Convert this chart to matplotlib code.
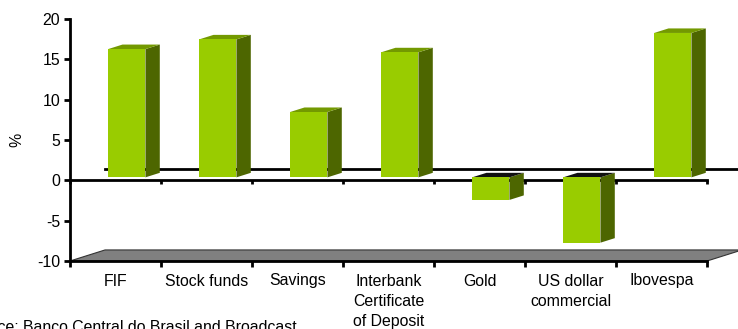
import matplotlib
matplotlib.use("Agg")
import matplotlib.pyplot as plt
from matplotlib.patches import Polygon

categories = [
    "FIF",
    "Stock funds",
    "Savings",
    "Interbank\nCertificate\nof Deposit",
    "Gold",
    "US dollar\ncommercial",
    "Ibovespa",
]
returns_pct = [15.9, 17.1, 8.1, 15.5, -2.8, -8.1, 17.9]
y_ticks = [-10, -5, 0, 5, 10, 15, 20]
source_note = "Source: Banco Central do Brasil and Broadcast"

# fake 3d: depth vector of the plot box, in data units
DEPTH_X, DEPTH_Y = 0.385, 1.37
BAR_FRONT, BAR_BACK = 0.27, 0.68
BAR_WIDTH = 0.41

FRONT_COLOR = "#99cc00"
SIDE_COLOR = "#4d6600"
TOP_COLOR = "#739900"

plt.rcParams["font.family"] = ["Liberation Sans", "DejaVu Sans"]
plt.rcParams["font.size"] = 11.4
plt.rcParams["axes.unicode_minus"] = False

fig = plt.figure(figsize=(7.38, 3.29), dpi=100)
ax = fig.add_axes([70 / 738, 68 / 329, 637 / 738, 242 / 329])
n = len(categories)
ax.set_xlim(0, n)
ax.set_ylim(-10, 20)

for side in ("top", "right"):
    ax.spines[side].set_visible(False)
for side in ("left", "bottom"):
    ax.spines[side].set_linewidth(2.0)
    ax.spines[side].set_zorder(5)

ax.set_yticks(y_ticks)
ax.tick_params(axis="y", length=4, width=2, pad=3)
ax.set_xticks(range(n + 1))
ax.set_xticklabels([""] * (n + 1))
ax.set_xticks([i + 0.5 for i in range(n)], minor=True)
ax.set_xticklabels(categories, minor=True, linespacing=1.45, va="top")
ax.tick_params(axis="x", which="major", length=4, width=2)
ax.tick_params(axis="x", which="minor", length=0, pad=9)

ax.set_ylabel("%")
ax.yaxis.set_label_coords(-0.072, 0.5)

# floor
floor = Polygon(
    [(0, -10), (n, -10), (n + DEPTH_X, -10 + DEPTH_Y), (DEPTH_X, -10 + DEPTH_Y)],
    closed=True, facecolor="#808080", edgecolor="#333333", lw=0.8,
    clip_on=False, zorder=1,
)
ax.add_patch(floor)

# back zero line and front zero line with ticks
ax.plot([DEPTH_X, n + DEPTH_X], [DEPTH_Y, DEPTH_Y], color="black", lw=2.0,
        clip_on=False, zorder=2)
ax.plot([0, n], [0, 0], color="black", lw=2.0, clip_on=False, zorder=3)
ax.vlines(range(n + 1), -0.5, 0, color="black", lw=2.0, clip_on=False, zorder=3)

bar_dx = (BAR_BACK - BAR_FRONT) * DEPTH_X
bar_dy = (BAR_BACK - BAR_FRONT) * DEPTH_Y
base = BAR_FRONT * DEPTH_Y
for i, v in enumerate(returns_pct):
    x0 = i + 0.52 - BAR_WIDTH / 2 + BAR_FRONT * DEPTH_X
    x1 = x0 + BAR_WIDTH
    ylo, yhi = min(base, base + v), max(base, base + v)
    side = [(x1, ylo), (x1 + bar_dx, ylo + bar_dy), (x1 + bar_dx, yhi + bar_dy), (x1, yhi)]
    top = [(x0, yhi), (x1, yhi), (x1 + bar_dx, yhi + bar_dy), (x0 + bar_dx, yhi + bar_dy)]
    front = [(x0, ylo), (x1, ylo), (x1, yhi), (x0, yhi)]
    top_color = TOP_COLOR if v >= 0 else "#111111"
    ax.add_patch(Polygon(side, facecolor=SIDE_COLOR, lw=0, zorder=6, clip_on=False))
    ax.add_patch(Polygon(top, facecolor=top_color, lw=0, zorder=6, clip_on=False))
    ax.add_patch(Polygon(front, facecolor=FRONT_COLOR, lw=0, zorder=7, clip_on=False))

fig.text(297 / 738, 1 - 320 / 329, source_note, ha="right", va="top")

fig.savefig("out.png", dpi=100)
plt.close(fig)
